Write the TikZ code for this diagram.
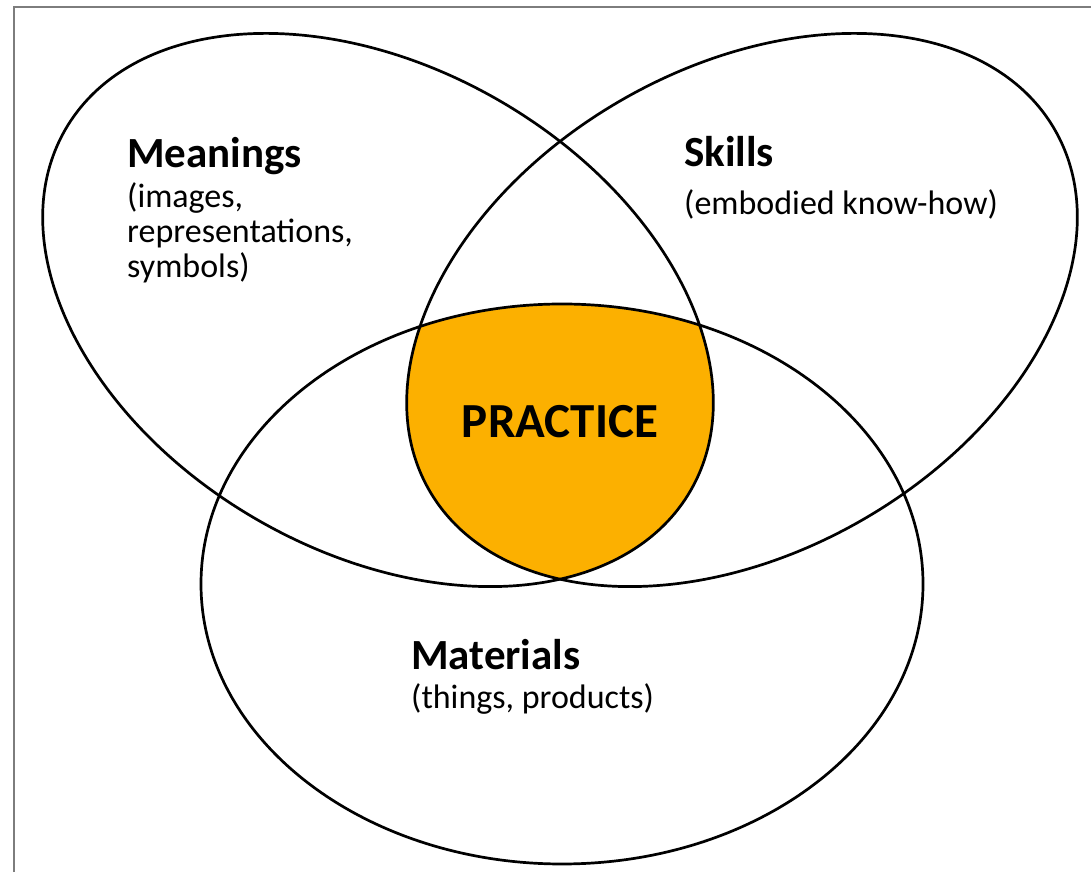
\documentclass[tikz,border=0pt]{standalone}
\usepackage{fontspec}
\setmainfont{Carlito}
\usetikzlibrary{positioning}
\definecolor{practiceorange}{RGB}{252,176,0}
\definecolor{framegray}{RGB}{125,125,125}

\begin{document}
\begin{tikzpicture}[x=1pt, y=1pt, ring/.style={draw=black, line width=2.7pt}, heading/.style={font=\fontsize{43}{50}\selectfont\bfseries, inner sep=0pt, anchor=base west}, detail/.style={font=\fontsize{34}{35}\selectfont, inner sep=0pt, anchor=base west, align=left}, core/.style={font=\fontsize{49}{56}\selectfont\bfseries, inner sep=0pt, anchor=base}]

    \useasboundingbox (0,0) rectangle (1091,872);

    %Frame
    \draw[framegray, line width=1.2pt] (14,0) -- (14,865) -- (1091,865);

    %Centres
    \coordinate (meanings_c) at (378,562);
    \coordinate (skills_c) at (742,562);
    \coordinate (materials_c) at (562,288);

    %Overlap
    \begin{scope}
        \clip[rotate around={-30:(meanings_c)}] (meanings_c) ellipse [x radius=361, y radius=242];
        \clip[rotate around={30:(skills_c)}] (skills_c) ellipse [x radius=361, y radius=242];
        \fill[practiceorange] (materials_c) ellipse [x radius=361, y radius=280];
    \end{scope}

    %Rings
    \draw[ring, rotate around={-30:(meanings_c)}] (meanings_c) ellipse [x radius=361, y radius=242];
    \draw[ring, rotate around={30:(skills_c)}] (skills_c) ellipse [x radius=361, y radius=242];
    \draw[ring] (materials_c) ellipse [x radius=361, y radius=280];

    %Labels
    \node[heading](meanings) at (127,704) {Meanings};
    \node[detail](meanings_text)[below=110pt of meanings.base west, anchor=base west] {(images,\\representations,\\symbols)};
    \node[heading](skills) at (684,705) {Skills};
    \node[detail](skills_text)[below=48pt of skills.base west, anchor=base west] {(embodied know-how)};
    \node[core](practice) at (560,434) {PRACTICE};
    \node[heading](materials) at (411,202) {Materials};
    \node[detail](materials_text)[below=39pt of materials.base west, anchor=base west] {(things, products)};

\end{tikzpicture}
\end{document}
